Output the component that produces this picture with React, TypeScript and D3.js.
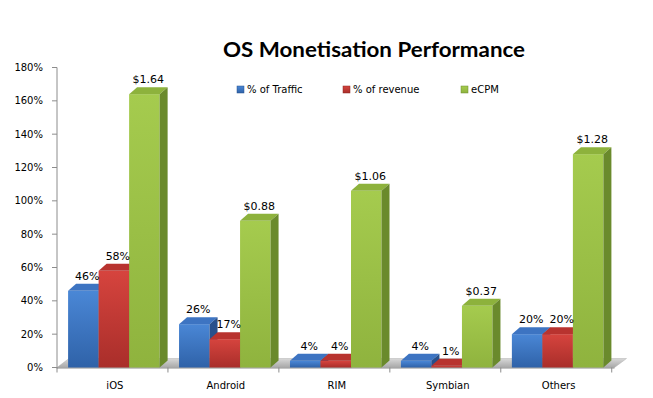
import React from "react";
import * as d3 from "d3";

const width = 653;
const height = 398;

const categories = ["iOS", "Android", "RIM", "Symbian", "Others"];
const seriesNames = ["% of Traffic", "% of revenue", "eCPM"];
const traffic = [46, 26, 4, 4, 20];
const revenue = [58, 17, 4, 1, 20];
const ecpm = [1.64, 0.88, 1.06, 0.37, 1.28];
const yTicks = [0, 20, 40, 60, 80, 100, 120, 140, 160, 180];

// front / top / side colours per series
const palette = [
    { light: "#4a87d6", dark: "#2f62a8", top: "#3d74c2", side: "#27508c" },
    { light: "#d6443e", dark: "#a92e2a", top: "#b8332f", side: "#8a2521" },
    { light: "#a5cb4e", dark: "#8fb33e", top: "#8db23c", side: "#6a8a2c" },
];

const fmtPct = (v: number) => `${v}%`;
const fmtUsd = (v: number) => `$${v.toFixed(2)}`;

const x = d3.scaleBand<string>()
    .domain(categories)
    .range([57, 614.5])
    .paddingInner(0.175)
    .paddingOuter(0.1);

const xs = d3.scaleBand<number>()
    .domain([0, 1, 2])
    .range([0, x.bandwidth()]);

const y = d3.scaleLinear().domain([0, 180]).range([367.5, 67.5]);

const dx = 8;
const dy = -7;

const rows = categories.map((c, i) => ({
    cat: c,
    bars: [
        { s: 0, v: traffic[i], label: fmtPct(traffic[i]) },
        { s: 1, v: revenue[i], label: fmtPct(revenue[i]) },
        { s: 2, v: ecpm[i] * 100, label: fmtUsd(ecpm[i]) },
    ],
}));

const pts = (p: number[][]) => p.map(d => d.join(",")).join(" ");

export default function App() {
    const y0 = y(0);
    const xEnd = x.range()[1];
    const font = "'DejaVu Sans', Verdana, sans-serif";
    const legendX = [237, 343, 461];

    return (
        <svg width={width} height={height} style={{ position: "absolute", left: 0, top: 0, background: "#fff" }}
            fontFamily={font} fontSize={10}>
            <defs>
                {palette.map((p, i) => (
                    <linearGradient key={i} id={"front" + i} x1="0" y1="0" x2="0" y2="1">
                        <stop offset="0%" stopColor={p.light} />
                        <stop offset="100%" stopColor={p.dark} />
                    </linearGradient>
                ))}
                <linearGradient id="floor" x1="0" y1="0" x2="0" y2="1">
                    <stop offset="0%" stopColor="#d8d8d8" />
                    <stop offset="100%" stopColor="#a8a8a8" />
                </linearGradient>
            </defs>

            <text x={374} y={57} textAnchor="middle" fontFamily="Lato, 'Open Sans', sans-serif"
                fontWeight="bold" fontSize={20} textLength={302} lengthAdjust="spacingAndGlyphs">
                OS Monetisation Performance
            </text>

            {/* floor */}
            <polygon points={pts([[57, y0], [xEnd, y0], [xEnd + 12, y0 - 9], [57 + 12, y0 - 9]])}
                fill="url(#floor)" stroke="#b0b0b0" strokeWidth={0.5} />

            {/* y axis */}
            <line x1={57} x2={57} y1={y(180)} y2={y0 + 1} stroke="#8c8c8c" />
            {yTicks.map(t => (
                <g key={t}>
                    <line x1={52} x2={57} y1={y(t)} y2={y(t)} stroke="#8c8c8c" />
                    <text x={43} y={y(t)} dy="0.35em" textAnchor="end" fill="#000">{t}%</text>
                </g>
            ))}

            {/* x axis */}
            <line x1={57} x2={xEnd} y1={y0 + 0.5} y2={y0 + 0.5} stroke="#8c8c8c" />
            {d3.range(categories.length + 1).map(i => {
                const tx = 57 + i * x.step();
                return <line key={i} x1={tx} x2={tx} y1={y0} y2={y0 + 5} stroke="#8c8c8c" />;
            })}
            {categories.map(c => (
                <text key={c} x={(x(c) ?? 0) + x.bandwidth() / 2 + 1} y={389} textAnchor="middle" fill="#000">{c}</text>
            ))}

            {/* bars */}
            {rows.map(r => (
                <g key={r.cat}>
                    {r.bars.map(b => {
                        const p = palette[b.s];
                        const x0 = (x(r.cat) ?? 0) + (xs(b.s) ?? 0);
                        const x1 = x0 + xs.bandwidth();
                        const yt = y(b.v);
                        return (
                            <g key={b.s}>
                                <rect x={x0} y={yt} width={x1 - x0} height={y0 - yt} fill={`url(#front${b.s})`} />
                                <polygon points={pts([[x0, yt], [x1, yt], [x1 + dx, yt + dy], [x0 + dx, yt + dy]])}
                                    fill={p.top} />
                                <polygon points={pts([[x1, yt], [x1 + dx, yt + dy], [x1 + dx, y0 + dy], [x1, y0]])}
                                    fill={p.side} />
                            </g>
                        );
                    })}
                </g>
            ))}

            {/* data labels */}
            {rows.map(r => r.bars.map(b => {
                const xc = (x(r.cat) ?? 0) + (xs(b.s) ?? 0) + xs.bandwidth() / 2 + dx / 2;
                return (
                    <text key={r.cat + b.s} x={xc} y={y(b.v) + dy - 4} textAnchor="middle" fontSize={11} fill="#000">
                        {b.label}
                    </text>
                );
            }))}

            {/* legend */}
            {seriesNames.map((n, i) => (
                <g key={n} transform={`translate(${legendX[i]},86)`}>
                    <rect x={0} y={0} width={7} height={7} fill={`url(#front${i})`} stroke={palette[i].side} strokeWidth={0.5} />
                    <text x={10} y={3.5} dy="0.35em" fontSize={10} fill="#000">{n}</text>
                </g>
            ))}
        </svg>
    );
}
